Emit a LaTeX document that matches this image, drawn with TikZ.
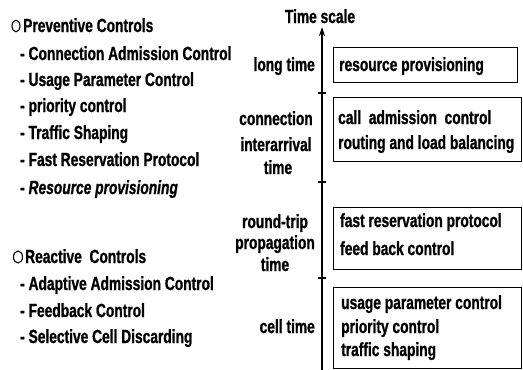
\documentclass[tikz,border=0pt]{standalone}
\usepackage{fontspec}
\newfontfamily\cf{Liberation Sans}[FakeStretch=0.725,FakeBold=1]
\usetikzlibrary{arrows.meta}
\begin{document}
\begin{tikzpicture}[x=1pt,y=-1pt,
  every node/.style={inner sep=0pt},
  txt/.style={font=\cf\bfseries\fontsize{19}{25}\selectfont},
  item/.style={txt, anchor=base west},
  lab/.style={txt, anchor=base},
  bullet/.style={line width=1.1pt},
  box/.style={draw, line width=1.1pt, anchor=north west},
  tick/.style={line width=1.2pt},
  axis/.style={line width=1.3pt, -{Stealth[length=9pt,width=6pt]}}]
\useasboundingbox (0,0) rectangle (523,370);

% left column
\draw[bullet] (16,26) ellipse [x radius=4, y radius=5.8];
\node[item] (prev) at (23,32) {Preventive Controls};
\node[item] (p1) at (20,60) {- Connection Admission Control};
\node[item] (p2) at (20,86) {- Usage Parameter Control};
\node[item] (p3) at (20,112) {- priority control};
\node[item] (p4) at (20,139) {- Traffic Shaping};
\node[item] (p5) at (20,166) {- Fast Reservation Protocol};
\node[item] (p6) at (20,194) {- \itshape Resource provisioning};

\draw[bullet] (18,257) ellipse [x radius=4.5, y radius=6];
\node[item] (reac) at (25,263) {Reactive\ \ Controls};
\node[item] (r1) at (20,290) {- Adaptive Admission Control};
\node[item] (r2) at (20,317) {- Feedback Control};
\node[item] (r3) at (20,343) {- Selective Cell Discarding};

% time axis
\node[lab] (ts) at (320,23) {Time scale};
\coordinate (abot) at (322,370);
\coordinate (atop) at (322,27);
\draw[axis] (abot) -- (atop);
\draw[tick] (318,93) -- (326,93);
\draw[tick] (318,182) -- (326,182);
\draw[tick] (318,278) -- (326,278);

% scale labels
\node[txt, anchor=base east] (lt) at (315,71) {long time};
\node[lab] (ci1) at (276,125) {connection};
\node[lab] (ci2) at (276,151) {interarrival};
\node[lab] (ci3) at (278,174) {time};
\node[lab] (rt1) at (275,228) {round-trip};
\node[lab] (rt2) at (275,249) {propagation};
\node[lab] (rt3) at (275,271) {time};
\node[txt, anchor=base east] (ct) at (315,333) {cell time};

% boxes
\node[box, minimum width=184pt, minimum height=35pt] (b1) at (333,47) {};
\node[box, minimum width=188pt, minimum height=64pt] (b2) at (333,97) {};
\node[box, minimum width=188pt, minimum height=62pt] (b3) at (333,207) {};
\node[box, minimum width=188pt, minimum height=81pt] (b4) at (333,287) {};

\node[item] (t11) at (339,71) {resource provisioning};
\node[item] (t21) at (338,124) {call\ \ admission\ \ control};
\node[item] (t22) at (338,149) {routing and load balancing};
\node[item] (t31) at (340,227) {fast reservation protocol};
\node[item] (t32) at (340,255) {feed back control};
\node[item] (t41) at (341,309) {usage parameter control};
\node[item] (t42) at (341,333) {priority control};
\node[item] (t43) at (341,356) {traffic shaping};
\end{tikzpicture}
\end{document}
